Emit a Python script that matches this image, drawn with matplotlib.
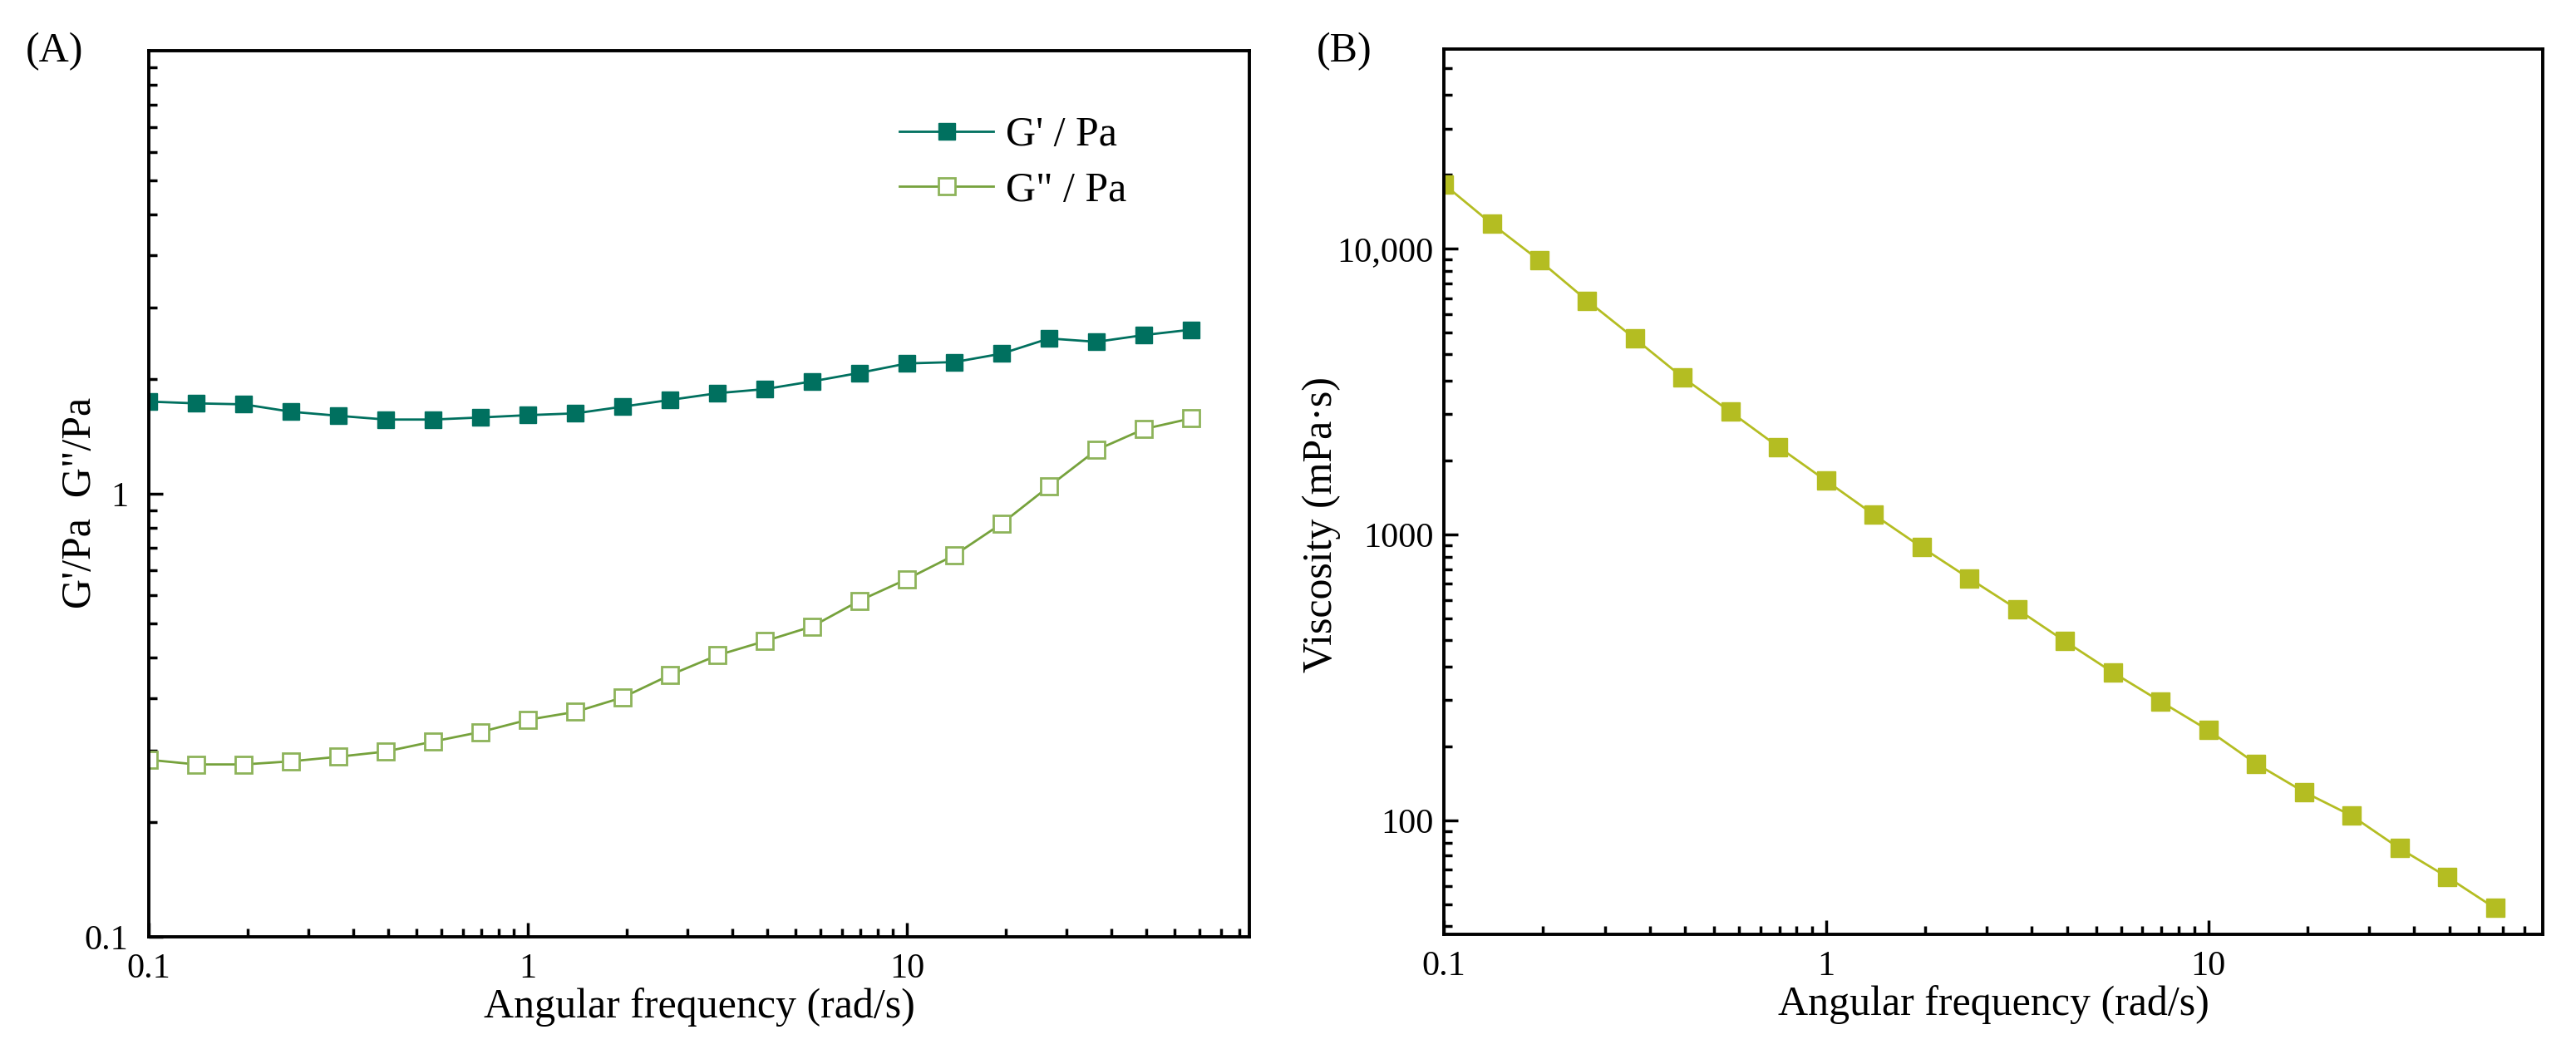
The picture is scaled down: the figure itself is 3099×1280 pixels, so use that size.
import numpy as np
import matplotlib
matplotlib.use("Agg")
from matplotlib import pyplot as plt
from matplotlib.ticker import FixedLocator, NullFormatter

plt.rcParams['font.family'] = ['Liberation Serif', 'DejaVu Serif']

# angular frequency sweep (rad/s), 8 points per decade
freq = [0.1, 0.1334, 0.1778, 0.2371, 0.3162, 0.4217, 0.5623, 0.7499,
        1.0, 1.334, 1.778, 2.371, 3.162, 4.217, 5.623, 7.499,
        10.0, 13.34, 17.78, 23.71, 31.62, 42.17, 56.23]

# panel A: storage / loss modulus (Pa)
g_storage = [1.615, 1.600, 1.592, 1.532, 1.500, 1.471, 1.471, 1.487,
             1.505, 1.519, 1.573, 1.629, 1.687, 1.723, 1.794, 1.875,
             1.969, 1.983, 2.072, 2.242, 2.203, 2.282, 2.347]
g_loss = [0.251, 0.245, 0.245, 0.249, 0.255, 0.262, 0.276, 0.290,
          0.309, 0.322, 0.347, 0.390, 0.432, 0.465, 0.502, 0.574,
          0.642, 0.727, 0.857, 1.040, 1.256, 1.400, 1.480]

# panel B: complex viscosity (mPa·s)
viscosity = [16830, 12240, 9110, 6590, 4850, 3550, 2690, 2030,
             1545, 1175, 904, 703, 549, 424, 330, 261,
             207, 158, 126, 104, 80, 63.5, 49.4]

TEAL = '#00705F'
OLIVE = '#76A23C'
LIME = '#B4BD22'


def origin_minor(lo_exp, hi_exp):
    # Origin style: 10 linear minor ticks inside each decade
    locs = []
    for e in range(lo_exp, hi_exp):
        base = 10.0 ** e
        locs += [base * (1 + 9 * k / 11) for k in range(1, 11)]
    return locs


def style_axis(ax):
    for s in ax.spines.values():
        s.set_linewidth(2.8)
    ax.tick_params(which='both', direction='in', width=2.5, labelsize=30.5,
                   top=False, right=False)
    ax.tick_params(which='major', length=12)
    ax.tick_params(which='minor', length=7)
    ax.tick_params(axis='x', which='both', pad=14)
    ax.set_xscale('log')
    ax.xaxis.set_major_locator(FixedLocator([0.1, 1, 10]))
    ax.set_xticklabels(['0.1', '1', '10'])
    ax.xaxis.set_minor_locator(FixedLocator(origin_minor(-1, 2)))
    ax.xaxis.set_minor_formatter(NullFormatter())
    ax.set_xlabel('Angular frequency (rad/s)', fontsize=36, labelpad=2)


fig = plt.figure(figsize=(30.99, 12.8), dpi=100)

# (A) moduli
ax1 = fig.add_axes([0.0578, 0.1195, 0.4272, 0.8328])
style_axis(ax1)
ax1.plot(freq, g_storage, '-s', color=TEAL, lw=2, ms=15, mfc=TEAL, mec=TEAL,
         label="G' / Pa")
ax1.plot(freq, g_loss, '-s', color=OLIVE, lw=2, ms=14, mfc='white', mec='#8DB35A',
         mew=2, label='G" / Pa')
ax1.set_xlim(0.1, 80)
ax1.set_yscale('log')
ax1.set_ylim(0.1, 10)
ax1.yaxis.set_major_locator(FixedLocator([0.1, 1]))
ax1.set_yticklabels(['0.1', '1'])
ax1.yaxis.set_minor_locator(FixedLocator(origin_minor(-1, 1)))
ax1.yaxis.set_minor_formatter(NullFormatter())
ax1.tick_params(axis='y', which='both', pad=18)
ax1.set_ylabel('G\'/Pa  G"/Pa', fontsize=36)
ax1.yaxis.set_label_coords(-0.045, 0.49)
ax1.legend(loc='upper left', bbox_to_anchor=(0.682, 0.926), frameon=False,
           fontsize=36, handlelength=2.26, handletextpad=0.3, labelspacing=0.4,
           borderpad=0, borderaxespad=0)

# (B) viscosity
ax2 = fig.add_axes([0.5605, 0.1219, 0.4266, 0.8320])
style_axis(ax2)
ax2.plot(freq, viscosity, '-s', color=LIME, lw=2, ms=16.5, mfc=LIME, mec=LIME)
ax2.set_xlim(0.1, 75)
ax2.set_yscale('log')
ax2.set_ylim(40, 50000)
ax2.yaxis.set_major_locator(FixedLocator([100, 1000, 10000]))
ax2.set_yticklabels(['100', '1000', '10,000'])
ax2.yaxis.set_minor_locator(FixedLocator(origin_minor(1, 5)))
ax2.yaxis.set_minor_formatter(NullFormatter())
ax2.tick_params(axis='y', which='both', pad=9)
ax2.set_ylabel('Viscosity (mPa·s)', fontsize=36)
ax2.yaxis.set_label_coords(-0.094, 0.463)

fig.text(0.010, 0.952, '(A)', fontsize=36, va='center', ha='left')
fig.text(0.511, 0.952, '(B)', fontsize=36, va='center', ha='left')

fig.savefig('out.png', dpi=100, facecolor='white')
